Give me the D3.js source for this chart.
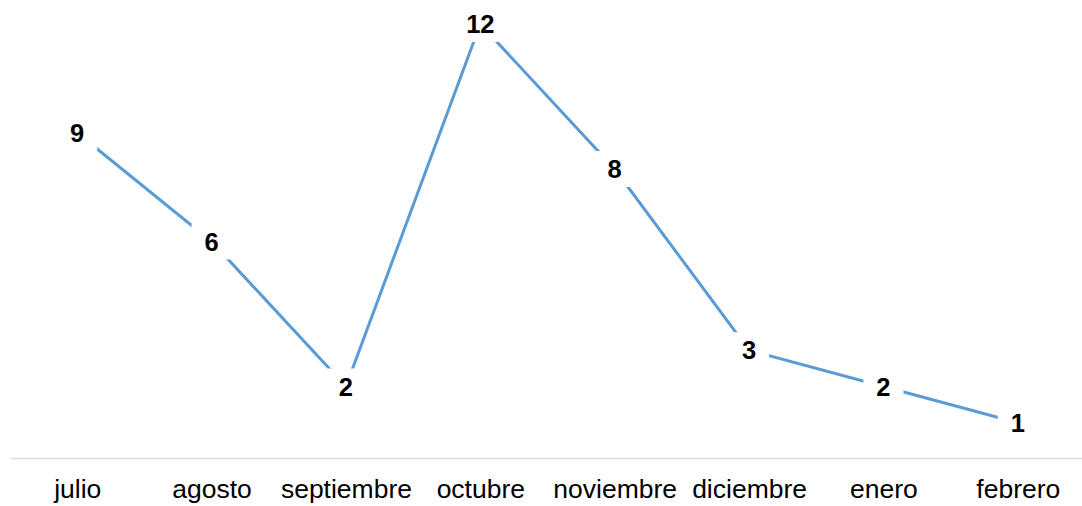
<!DOCTYPE html>
<html>
<head>
<meta charset="utf-8">
<script src="https://cdn.jsdelivr.net/npm/d3@7/dist/d3.min.js"></script>
<style>
  html, body { margin: 0; padding: 0; background: #fff; }
  svg { display: block; }
</style>
</head>
<body>
<svg id="chart" width="1082" height="506"></svg>
<script>
const categories = ["julio", "agosto", "septiembre", "octubre", "noviembre", "diciembre", "enero", "febrero"];
const values = [9, 6, 2, 12, 8, 3, 2, 1];

const W = 1082, H = 506;
const svg = d3.select("#chart");
const font = "'Liberation Sans', Arial, sans-serif";

const x = d3.scalePoint().domain(categories).range([10, 1085]).padding(0.5);
const y = d3.scaleLinear().domain([0, 12]).range([459, 24]);

const data = categories.map((c, i) => ({ c, v: values[i] }));

// axis
const axis = d3.axisBottom(x).tickSize(0).tickPadding(0);
const gx = svg.append("g").attr("transform", "translate(0,458)").call(axis);
gx.select(".domain").attr("stroke", "#d9d9d9").attr("stroke-width", 1.5);
gx.selectAll("text")
  .attr("y", 33)
  .attr("dy", null)
  .attr("dominant-baseline", "middle")
  .attr("fill", "#000")
  .style("font-family", font)
  .style("font-size", "26.5px");

// line
const line = d3.line().x(d => x(d.c)).y(d => y(d.v));
svg.append("path")
  .datum(data)
  .attr("d", line)
  .attr("fill", "none")
  .attr("stroke", "#5b9bd5")
  .attr("stroke-width", 3);

// data labels with white background box
const lab = svg.append("g").selectAll("g").data(data).join("g")
  .attr("transform", d => `translate(${x(d.c)},${y(d.v)})`);
lab.append("rect")
  .attr("x", d => -(String(d.v).length * 7 + 13))
  .attr("width", d => 2 * (String(d.v).length * 7 + 13))
  .attr("y", -18)
  .attr("height", 36)
  .attr("fill", "#fff");
lab.append("text")
  .attr("text-anchor", "middle")
  .attr("dominant-baseline", "central")
  .attr("fill", "#000")
  .style("font-family", font)
  .style("font-weight", "bold")
  .style("font-size", "25.5px")
  .text(d => d.v);
</script>
</body>
</html>
